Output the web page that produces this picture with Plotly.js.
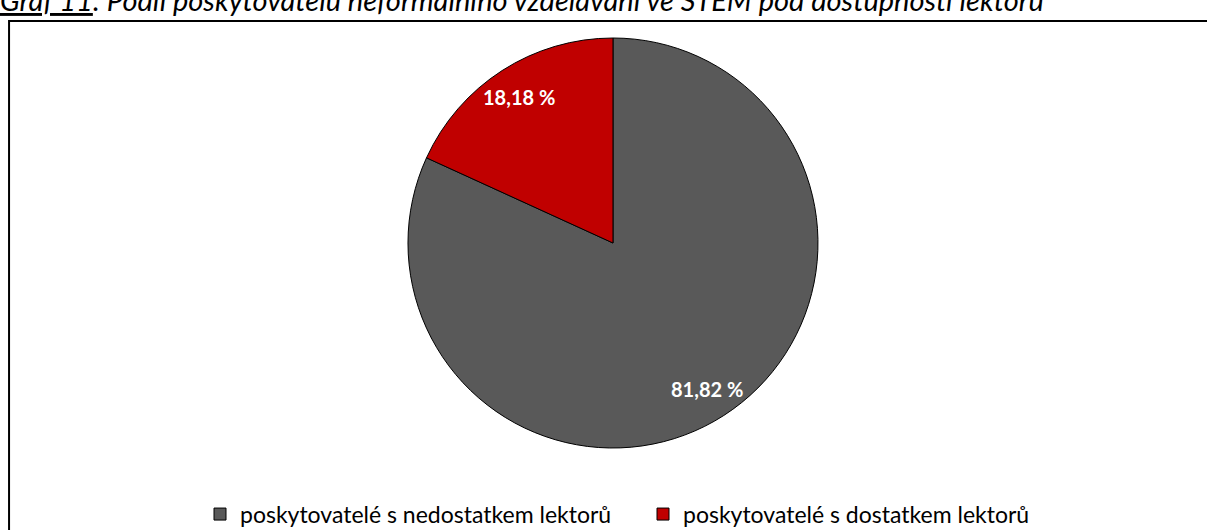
<!DOCTYPE html>
<html><head><meta charset="utf-8">
<script src="https://cdn.plot.ly/plotly-3.0.1.min.js"></script>
<style>body{margin:0;padding:0;background:#fff}#chart{width:1207px;height:530px}</style>
</head><body><div id="chart"></div>
<script>
const labels = ["poskytovatelé s nedostatkem lektorů", "poskytovatelé s dostatkem lektorů"];
const values = [81.82, 18.18];
const colors = ["#595959", "#C00000"];
const textLabels = values.map(v => v.toFixed(2).replace('.', ',') + ' %');
const titleText = "<u>Graf 11</u>: Podíl poskytovatelů neformálního vzdělávání ve STEM pod dostupností lektorů";

const W = 1207, H = 530;
const dom = {x: [0.2, 0.8157], y: [0.1547, 0.9283]};
// pie geometry in paper units, used only to place the value labels
const cxPx = (dom.x[0] + dom.x[1]) / 2 * W;
const cyPx = (1 - (dom.y[0] + dom.y[1]) / 2) * H;
const rPx = (dom.y[1] - dom.y[0]) * H / 2;
const total = values.reduce((a, b) => a + b, 0);
let cum = 0;
const labelAnns = values.map((v, i) => {
  const mid = (cum + v / 2) / total * 2 * Math.PI; cum += v;
  const r = rPx * 0.845;
  const xp = cxPx + r * Math.sin(mid), yp = cyPx - r * Math.cos(mid);
  return {text: '<b>' + textLabels[i] + '</b>', xref: 'paper', yref: 'paper',
          x: xp / W, y: 1 - yp / H, xanchor: 'center', yanchor: 'middle', showarrow: false,
          font: {family: 'Lato, sans-serif', size: 20, color: '#fff'}};
});

const trace = {
  type: 'pie',
  labels: labels,
  values: values,
  textinfo: 'none',
  sort: false,
  direction: 'clockwise',
  rotation: 0,
  marker: {colors: colors, line: {color: '#000', width: 1}},
  domain: dom,
  hoverinfo: 'label+percent'
};

const layout = {
  width: W, height: H,
  margin: {l: 0, r: 0, t: 0, b: 0, autoexpand: false},
  paper_bgcolor: '#fff',
  font: {family: 'Lato, sans-serif', color: '#000'},
  showlegend: true,
  legend: {orientation: 'h', x: 200 / W, xanchor: 'left', y: 0.03, yanchor: 'middle',
           entrywidth: 398, entrywidthmode: 'pixels',
           font: {size: 23, family: 'Lato, sans-serif'}, itemwidth: 30, traceorder: 'normal'},
  shapes: [{type: 'rect', xref: 'paper', yref: 'paper', x0: 0.0075, x1: 1.01, y0: -0.05, y1: 0.9604,
            line: {color: '#000', width: 2}}],
  annotations: [{text: titleText, xref: 'paper', yref: 'paper', x: 0.0, xanchor: 'left', xshift: -2,
                 y: 1.0, yanchor: 'middle', yshift: 1, showarrow: false,
                 font: {family: 'Lato, sans-serif', size: 29, style: 'italic', color: '#000'}}].concat(labelAnns)
};
Plotly.newPlot('chart', [trace], layout, {displayModeBar: false, staticPlot: true});
</script></body></html>
